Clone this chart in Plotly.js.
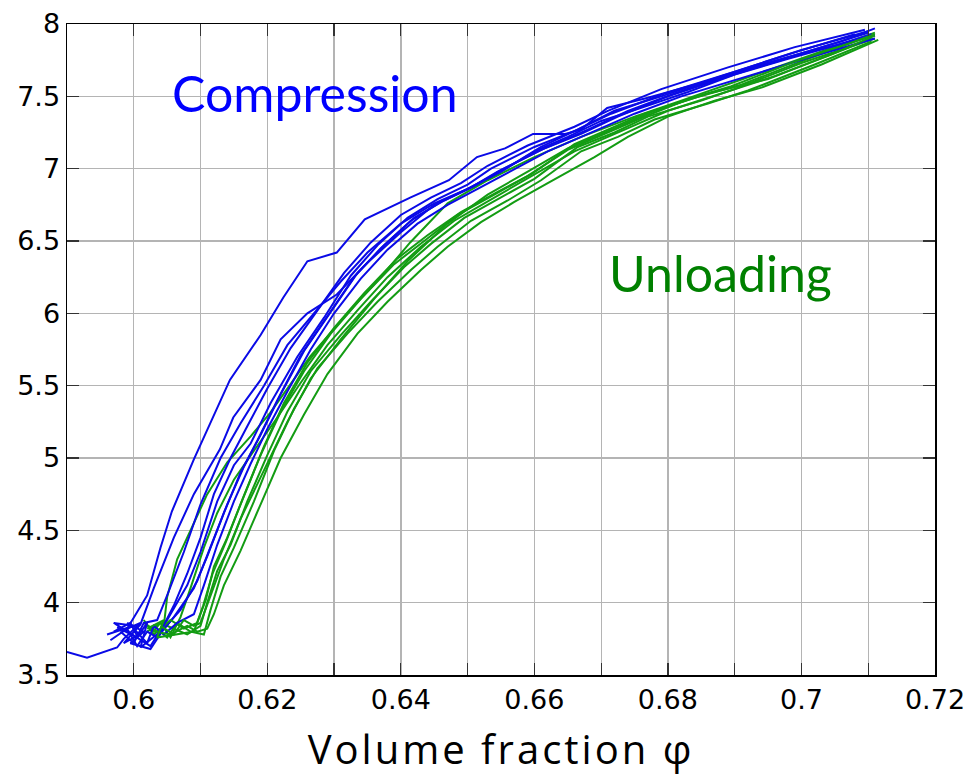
<!DOCTYPE html>
<html>
<head>
<meta charset="utf-8">
<script src="https://cdn.plot.ly/plotly-3.0.1.min.js"></script>
<style>html,body{margin:0;padding:0;background:#fff;}#plot{width:971px;height:783px;} .xtitle{letter-spacing:3px;}</style>
</head>
<body>
<div id="plot"></div>
<script>
// Compression (blue) curves
const b1x = [0.5900,0.5930,0.5975,0.5985,0.6010,0.5990,0.6020,0.6040,0.6057,0.6090,0.6144,0.6190,0.6224,0.6260,0.6304,0.6346,0.6414,0.6472,0.6514,0.6556,0.6598,0.6646,0.6670,0.6709,0.6770,0.6840,0.6920,0.7000,0.7060,0.7110];
const b1y = [3.66,3.62,3.69,3.75,3.86,3.82,4.05,4.38,4.63,4.99,5.54,5.85,6.11,6.36,6.42,6.65,6.80,6.92,7.08,7.14,7.24,7.24,7.27,7.42,7.49,7.58,7.69,7.80,7.88,7.97];
const b2x = [0.5970,0.5995,0.6005,0.5985,0.6010,0.6030,0.6060,0.6090,0.6129,0.6149,0.6190,0.6220,0.6260,0.6304,0.6350,0.6400,0.6450,0.6500,0.6550,0.6600,0.6650,0.6700,0.6760,0.6830,0.6900,0.6980,0.7050,0.7105];
const b2y = [3.80,3.86,3.77,3.72,3.85,4.10,4.45,4.75,5.06,5.28,5.54,5.82,6.00,6.13,6.35,6.56,6.75,6.86,6.98,7.12,7.22,7.33,7.42,7.53,7.65,7.76,7.85,7.93];
const b3x = [0.5960,0.6000,0.5970,0.6010,0.6025,0.6050,0.6080,0.6100,0.6125,0.6150,0.6175,0.6205,0.6245,0.6285,0.6325,0.6365,0.6410,0.6455,0.6500,0.6535,0.6600,0.6665,0.6715,0.6795,0.6900,0.7000,0.7100];
const b3y = [3.78,3.84,3.86,3.74,3.70,3.88,4.12,4.35,4.70,4.95,5.10,5.38,5.70,5.97,6.26,6.47,6.66,6.79,6.89,7.00,7.15,7.27,7.38,7.52,7.67,7.82,7.95];
const b4x = [0.5965,0.5990,0.6005,0.6020,0.6035,0.6060,0.6090,0.6110,0.6135,0.6160,0.6185,0.6215,0.6250,0.6290,0.6330,0.6370,0.6415,0.6460,0.6505,0.6545,0.6610,0.6670,0.6725,0.6800,0.6905,0.7005,0.7110];
const b4y = [3.74,3.82,3.70,3.80,3.76,3.90,4.10,4.32,4.62,4.90,5.12,5.40,5.71,5.98,6.25,6.45,6.64,6.77,6.87,6.98,7.13,7.24,7.36,7.50,7.66,7.80,7.92];
const b5x = [0.5990,0.6015,0.5995,0.6025,0.6045,0.6070,0.6095,0.6115,0.6140,0.6165,0.6190,0.6220,0.6255,0.6295,0.6335,0.6375,0.6420,0.6465,0.6510,0.6550,0.6615,0.6680,0.6740,0.6810,0.6910,0.7010,0.7100];
const b5y = [3.86,3.80,3.72,3.68,3.82,3.95,4.15,4.38,4.68,4.94,5.16,5.44,5.74,6.01,6.28,6.47,6.66,6.78,6.88,6.99,7.14,7.27,7.40,7.52,7.68,7.81,7.94];
const b6x = [0.6000,0.6020,0.6030,0.6045,0.6065,0.6090,0.6105,0.6125,0.6150,0.6175,0.6200,0.6230,0.6265,0.6300,0.6340,0.6380,0.6425,0.6470,0.6515,0.6560,0.6620,0.6690,0.6750,0.6820,0.6920,0.7020,0.7110];
const b6y = [3.82,3.72,3.84,3.78,3.86,3.92,4.12,4.40,4.70,4.96,5.20,5.46,5.75,6.00,6.24,6.44,6.62,6.75,6.86,6.97,7.12,7.26,7.38,7.50,7.64,7.78,7.90];
const b7x = [0.5975,0.6005,0.6020,0.6010,0.6040,0.6060,0.6080,0.6100,0.6120,0.6145,0.6170,0.6200,0.6235,0.6275,0.6315,0.6355,0.6400,0.6445,0.6490,0.6530,0.6590,0.6660,0.6710,0.6790,0.6890,0.6990,0.7095];
const b7y = [3.83,3.76,3.86,3.69,3.80,3.98,4.20,4.45,4.75,5.00,5.22,5.48,5.76,6.02,6.28,6.49,6.68,6.80,6.90,7.02,7.16,7.29,7.40,7.55,7.70,7.84,7.96];
const b8x = [0.5980,0.6000,0.6015,0.6035,0.6050,0.6075,0.6100,0.6130,0.6160,0.6195,0.6230,0.6270,0.6310,0.6350,0.6400,0.6450,0.6500,0.6550,0.6610,0.6660,0.6720,0.6790,0.6880,0.6980,0.7080];
const b8y = [3.80,3.72,3.86,3.88,4.05,4.35,4.68,5.00,5.24,5.50,5.78,6.00,6.22,6.42,6.62,6.76,6.86,6.98,7.15,7.26,7.40,7.50,7.64,7.79,7.93];

// Unloading (green) curves
const g1x = [0.6015,0.6030,0.6045,0.6050,0.6065,0.6090,0.6110,0.6140,0.6175,0.6204,0.6264,0.6320,0.6370,0.6414,0.6470,0.6530,0.6600,0.6670,0.6750,0.6820,0.6900,0.7000,0.7110];
const g1y = [3.88,3.78,3.84,4.04,4.30,4.55,4.75,4.97,5.15,5.31,5.70,6.00,6.25,6.49,6.76,6.92,7.08,7.22,7.36,7.47,7.60,7.76,7.94];
const g2x = [0.6020,0.6040,0.6055,0.6070,0.6085,0.6105,0.6125,0.6150,0.6180,0.6215,0.6250,0.6290,0.6335,0.6380,0.6430,0.6480,0.6540,0.6600,0.6660,0.6730,0.6800,0.6880,0.6960,0.7040,0.7105];
const g2y = [3.80,3.86,3.76,3.90,4.10,4.38,4.62,4.85,5.05,5.28,5.52,5.78,6.02,6.25,6.46,6.64,6.80,6.96,7.12,7.26,7.40,7.52,7.64,7.78,7.90];
const g3x = [0.6025,0.6040,0.6060,0.6080,0.6100,0.6110,0.6125,0.6145,0.6170,0.6200,0.6230,0.6265,0.6310,0.6355,0.6405,0.6445,0.6495,0.6550,0.6600,0.6665,0.6720,0.6770,0.6850,0.6900,0.7000,0.7110];
const g3y = [3.78,3.86,3.82,3.78,3.84,4.00,4.22,4.40,4.70,5.02,5.32,5.60,5.85,6.08,6.32,6.48,6.66,6.80,6.93,7.15,7.25,7.36,7.47,7.55,7.73,7.90];
const g4x = [0.6030,0.6050,0.6065,0.6085,0.6105,0.6115,0.6130,0.6150,0.6180,0.6210,0.6240,0.6275,0.6320,0.6365,0.6415,0.6455,0.6505,0.6560,0.6610,0.6670,0.6725,0.6780,0.6860,0.6920,0.7020,0.7105];
const g4y = [3.84,3.76,3.86,3.80,3.78,3.95,4.18,4.38,4.70,5.05,5.34,5.62,5.86,6.08,6.30,6.46,6.64,6.78,6.92,7.12,7.22,7.34,7.45,7.54,7.72,7.88];
const g5x = [0.6015,0.6035,0.6055,0.6075,0.6095,0.6108,0.6120,0.6140,0.6165,0.6195,0.6225,0.6260,0.6300,0.6345,0.6395,0.6440,0.6490,0.6545,0.6595,0.6660,0.6710,0.6765,0.6840,0.6910,0.7010,0.7110];
const g5y = [3.86,3.80,3.88,3.82,3.86,4.02,4.25,4.45,4.74,5.08,5.38,5.66,5.90,6.14,6.38,6.54,6.70,6.84,6.96,7.17,7.27,7.38,7.49,7.58,7.76,7.93];
const g6x = [0.6030,0.6055,0.6080,0.6095,0.6110,0.6120,0.6135,0.6160,0.6190,0.6220,0.6255,0.6290,0.6335,0.6380,0.6430,0.6470,0.6520,0.6570,0.6620,0.6690,0.6740,0.6800,0.6870,0.6940,0.7030,0.7115];
const g6y = [3.80,3.78,3.84,3.80,3.82,3.92,4.12,4.36,4.68,5.00,5.30,5.58,5.86,6.08,6.30,6.46,6.63,6.77,6.90,7.08,7.22,7.36,7.47,7.56,7.72,7.89];
const g7x = [0.6020,0.6045,0.6035,0.6065,0.6090,0.6104,0.6118,0.6138,0.6160,0.6190,0.6220,0.6255,0.6295,0.6340,0.6390,0.6435,0.6485,0.6540,0.6590,0.6650,0.6705,0.6760,0.6830,0.6895,0.6990,0.7100];
const g7y = [3.82,3.88,3.76,3.78,3.80,3.98,4.20,4.42,4.68,5.02,5.32,5.60,5.86,6.10,6.34,6.50,6.68,6.82,6.95,7.13,7.24,7.35,7.48,7.57,7.74,7.91];
const g8x = [0.6040,0.6060,0.6075,0.6090,0.6100,0.6115,0.6135,0.6160,0.6195,0.6230,0.6265,0.6310,0.6360,0.6410,0.6470,0.6530,0.6590,0.6650,0.6710,0.6780,0.6860,0.6950,0.7050,0.7110];
const g8y = [3.84,3.78,3.88,3.84,3.86,4.05,4.30,4.58,4.92,5.25,5.55,5.82,6.10,6.36,6.62,6.82,6.98,7.14,7.26,7.40,7.52,7.62,7.80,7.92];

// Axis ticks
const xTickVals = [0.59,0.60,0.61,0.62,0.63,0.64,0.65,0.66,0.67,0.68,0.69,0.70,0.71,0.72];
const xTickText = ['', '0.6', '', '0.62', '', '0.64', '', '0.66', '', '0.68', '', '0.7', '', '0.72'];
const yTickVals = [3.5,4,4.5,5,5.5,6,6.5,7,7.5,8];
const yTickText = ['3.5','4','4.5','5','5.5','6','6.5','7','7.5','8'];

const labelCompression = 'Compression';
const labelUnloading = 'Unloading';
const xTitle = 'Volume fraction φ';

const blueCurves = [[b1x,b1y],[b2x,b2y],[b3x,b3y],[b4x,b4y],[b5x,b5y],[b6x,b6y],[b7x,b7y],[b8x,b8y]];
const greenCurves = [[g1x,g1y],[g2x,g2y],[g3x,g3y],[g4x,g4y],[g5x,g5y],[g6x,g6y],[g7x,g7y],[g8x,g8y]];

const BLUE = '#0a0ae6';
const GREEN = '#139c13';
const traces = [];
for (let i = 0; i < blueCurves.length; i++) {
  traces.push({x: blueCurves[i][0], y: blueCurves[i][1], mode: 'lines', type: 'scatter',
    line: {color: BLUE, width: 2}, hoverinfo: 'skip', showlegend: false});
  traces.push({x: greenCurves[i][0], y: greenCurves[i][1], mode: 'lines', type: 'scatter',
    line: {color: GREEN, width: 2}, hoverinfo: 'skip', showlegend: false});
}

const axisCommon = {
  showline: true, linecolor: '#000', linewidth: 1.5, mirror: 'allticks',
  ticks: 'inside', ticklen: 12, tickwidth: 1.2, tickcolor: '#333',
  showgrid: true, gridcolor: '#b4b4b4', gridwidth: 1.3, zeroline: false,
  tickfont: {family: 'DejaVu Sans', size: 27, color: '#000'}
};

const layout = {
  width: 971, height: 783,
  margin: {l: 67, r: 36, t: 24, b: 108},
  paper_bgcolor: '#fff', plot_bgcolor: '#fff',
  xaxis: Object.assign({}, axisCommon, {
    range: [0.59, 0.72], tickmode: 'array', tickvals: xTickVals, ticktext: xTickText,
    title: {text: xTitle, font: {family: 'Open Sans', size: 40, color: '#000'}, standoff: 22}
  }),
  yaxis: Object.assign({}, axisCommon, {
    range: [3.5, 8], tickmode: 'array', tickvals: yTickVals, ticktext: yTickText
  }),
  annotations: [
    {x: 0.6054, y: 7.52, xref: 'x', yref: 'y', text: labelCompression, showarrow: false,
     xanchor: 'left', yanchor: 'middle', font: {family: 'Lato', size: 50, color: '#0000ff'}},
    {x: 0.6709, y: 6.28, xref: 'x', yref: 'y', text: labelUnloading, showarrow: false,
     xanchor: 'left', yanchor: 'middle', font: {family: 'Lato', size: 50, color: '#008000'}}
  ]
};

Plotly.newPlot('plot', traces, layout, {staticPlot: true, displayModeBar: false});
</script>
</body>
</html>
